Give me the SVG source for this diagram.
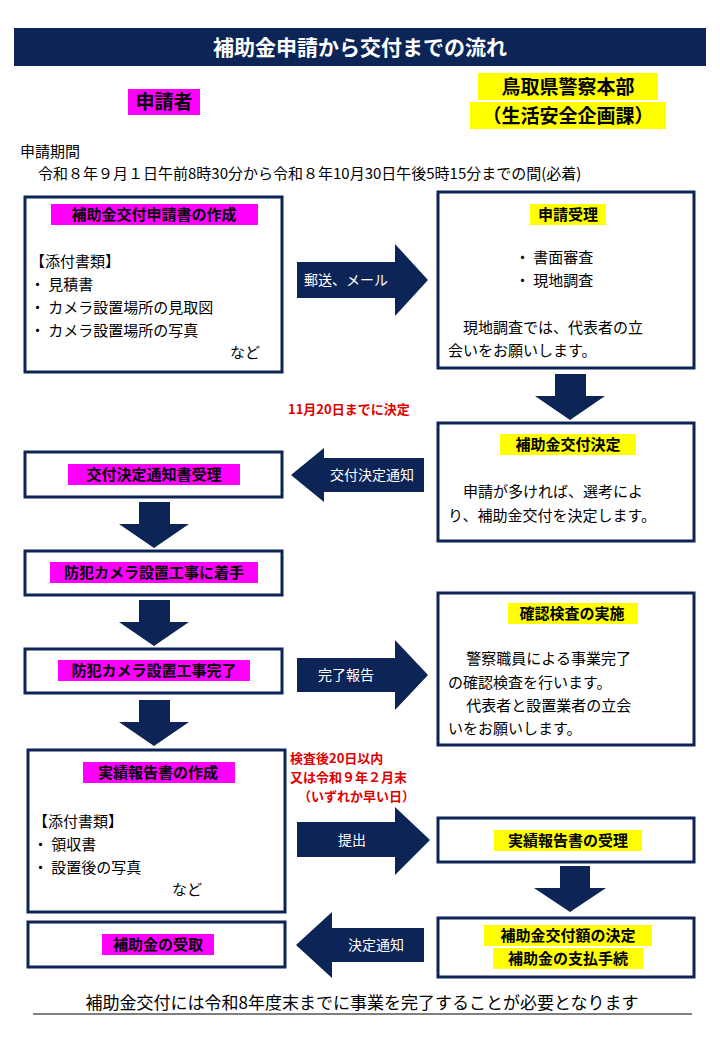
<svg xmlns="http://www.w3.org/2000/svg" width="720" height="1040" viewBox="0 0 720 1040">
<style>
text{font-family:"Noto Sans CJK JP",sans-serif;fill:#000}
.t{font-size:15px}
.h{font-size:15px;font-weight:bold;text-anchor:middle}
.c{text-anchor:middle}
.w{fill:#fff;font-size:14px;text-anchor:middle}
.r{fill:#e00000;font-size:13px;font-weight:bold}
.box{fill:#fff;stroke:#0d2456;stroke-width:3}
.m{fill:#ff00ff}.y{fill:#ffff00}
.a{fill:#0d2456}
</style>
<rect x="14" y="28" width="692" height="38" fill="#0d2456"/>
<text x="360" y="55" class="c" style="font-size:21px;font-weight:bold;fill:#fff">補助金申請から交付までの流れ</text>
<rect x="128" y="89" width="72" height="26" class="m"/>
<text x="164" y="109" class="c" style="font-size:19px;font-weight:bold">申請者</text>
<rect x="478" y="73" width="180" height="27" class="y"/>
<rect x="470" y="102" width="196" height="27" class="y"/>
<text x="568" y="94" class="c" style="font-size:19px;font-weight:bold">鳥取県警察本部</text>
<text x="568" y="123" class="c" style="font-size:19px;font-weight:bold">（生活安全企画課）</text>
<text x="20" y="157" class="t">申請期間</text>
<text x="38" y="179" class="t">令和８年９月１日午前8時30分から令和８年10月30日午後5時15分までの間(必着)</text>

<g id="connectors">
<polygon class="a" points="297,262 395,262 395,244 428,280 395,316 395,298 297,298"/>
<text x="346" y="285" class="w">郵送、メール</text>
<polygon class="a" points="555,374 586,374 586,396 605,396 570,420 535,396 555,396"/>
<polygon class="a" points="424,458 324,458 324,448 291,475 324,502 324,492 424,492"/>
<text x="372" y="480" class="w">交付決定通知</text>
<polygon class="a" points="139,502 170,502 170,524 189,524 154,548 119,524 139,524"/>
<polygon class="a" points="139,600 170,600 170,622 189,622 154,646 119,622 139,622"/>
<polygon class="a" points="297,658 395,658 395,640 428,675 395,710 395,692 297,692"/>
<text x="346" y="680" class="w">完了報告</text>
<polygon class="a" points="139,700 170,700 170,722 189,722 154,746 119,722 139,722"/>
<polygon class="a" points="297,822 395,822 395,807 430,840 395,875 395,857 297,857"/>
<text x="352" y="845" class="w">提出</text>
<polygon class="a" points="560,866 590,866 590,888 606,888 570,912 534,888 560,888"/>
<polygon class="a" points="424,928 332,928 332,912 296,945 332,978 332,962 424,962"/>
<text x="376" y="950" class="w">決定通知</text>
</g>
<text x="288" y="414" class="r">11月20日までに決定</text>
<text x="290" y="763" class="r">検査後20日以内</text>
<text x="290" y="782" class="r">又は令和９年２月末</text>
<text x="298" y="801" class="r">（いずれか早い日）</text>

<g id="n1"><rect x="25" y="197" width="257" height="175" class="box"/>
<rect x="51" y="204" width="207" height="21" class="m"/>
<text x="154" y="220" class="h">補助金交付申請書の作成</text>
<text x="30" y="267" class="t">【添付書類】</text>
<text x="30" y="290" class="t">・ 見積書</text>
<text x="30" y="313" class="t">・ カメラ設置場所の見取図</text>
<text x="30" y="336" class="t">・ カメラ設置場所の写真</text>
<text x="230" y="358" class="t">など</text></g>

<g id="n2"><rect x="438" y="192" width="256" height="176" class="box"/>
<rect x="530" y="204" width="76" height="21" class="y"/>
<text x="568" y="220" class="h">申請受理</text>
<text x="515" y="263" class="t">・ 書面審査</text>
<text x="515" y="286" class="t">・ 現地調査</text>
<text x="448" y="333" class="t">　現地調査では、代表者の立</text>
<text x="448" y="356" class="t">会いをお願いします。</text></g>

<g id="n3"><rect x="438" y="423" width="256" height="118" class="box"/>
<rect x="500" y="434" width="136" height="21" class="y"/>
<text x="568" y="450" class="h">補助金交付決定</text>
<text x="448" y="497" class="t">　申請が多ければ、選考によ</text>
<text x="448" y="521" class="t">り、補助金交付を決定します。</text></g>

<g id="n4"><rect x="25" y="452" width="257" height="45" class="box"/>
<rect x="68" y="464" width="172" height="21" class="m"/>
<text x="154" y="480" class="h">交付決定通知書受理</text></g>

<g id="n5"><rect x="25" y="551" width="257" height="44" class="box"/>
<rect x="50" y="562" width="208" height="21" class="m"/>
<text x="154" y="578" class="h">防犯カメラ設置工事に着手</text></g>

<g id="n6"><rect x="25" y="649" width="257" height="44" class="box"/>
<rect x="58" y="660" width="192" height="21" class="m"/>
<text x="154" y="676" class="h">防犯カメラ設置工事完了</text></g>

<g id="n7"><rect x="438" y="593" width="256" height="152" class="box"/>
<rect x="508" y="603" width="130" height="21" class="y"/>
<text x="572" y="619" class="h">確認検査の実施</text>
<text x="448" y="664" class="t">　 警察職員による事業完了</text>
<text x="448" y="688" class="t">の確認検査を行います。</text>
<text x="448" y="711" class="t">　 代表者と設置業者の立会</text>
<text x="448" y="734" class="t">いをお願いします。</text></g>

<g id="n8"><rect x="28" y="750" width="257" height="162" class="box"/>
<rect x="83" y="762" width="152" height="21" class="m"/>
<text x="158" y="778" class="h">実績報告書の作成</text>
<text x="33" y="827" class="t">【添付書類】</text>
<text x="33" y="850" class="t">・ 領収書</text>
<text x="33" y="873" class="t">・ 設置後の写真</text>
<text x="172" y="895" class="t">など</text></g>

<g id="n9"><rect x="438" y="818" width="256" height="44" class="box"/>
<rect x="494" y="830" width="148" height="21" class="y"/>
<text x="568" y="846" class="h">実績報告書の受理</text></g>

<g id="n10"><rect x="438" y="918" width="256" height="59" class="box"/>
<rect x="484" y="925" width="168" height="21" class="y"/>
<rect x="493" y="948" width="150" height="21" class="y"/>
<text x="568" y="941" class="h">補助金交付額の決定</text>
<text x="568" y="964" class="h">補助金の支払手続</text></g>

<g id="n11"><rect x="28" y="922" width="257" height="45" class="box"/>
<rect x="102" y="934" width="112" height="21" class="m"/>
<text x="158" y="950" class="h">補助金の受取</text></g>

<text x="362" y="1009" class="c" style="font-size:17px">補助金交付には令和8年度末までに事業を完了することが必要となります</text>
<line x1="33" y1="1014" x2="692" y2="1014" stroke="#000" stroke-width="1"/>
</svg>
